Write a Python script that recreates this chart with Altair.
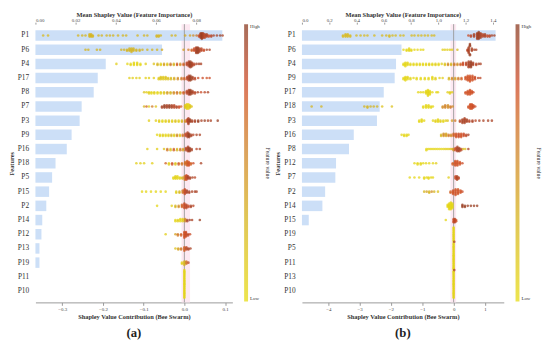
import altair as alt
import pandas as pd

SERIF = "Liberation Serif"

# ---------------- Panel (a) ----------------
features_a = ["P1", "P6", "P4", "P17", "P8", "P7", "P3", "P9", "P16", "P18",
              "P5", "P15", "P2", "P14", "P12", "P13", "P19", "P11", "P10"]
importance_a = [0.093, 0.063, 0.035, 0.031, 0.029, 0.023, 0.022, 0.018, 0.0156, 0.010,
                0.0083, 0.0068, 0.0054, 0.0034, 0.003, 0.002, 0.002, 0.0, 0.0]
top_ticks_a = [0.00, 0.02, 0.04, 0.06, 0.08]
bottom_ticks_a = [-0.3, -0.2, -0.1, 0.0, 0.1]
zero_band_a = [-0.007, 0.014]

# (shap value, feature value 0..1, count)
swarm_a = {
    "P1": [(-0.347, .25, 1), (-0.335, .25, 1), (-0.261, .3, 1), (-0.251, .3, 1), (-0.243, .3, 1),
           (-0.233, .3, 3), (-0.229, .3, 3), (-0.225, .3, 2), (-0.211, .3, 1), (-0.203, .3, 1),
           (-0.191, .3, 1), (-0.183, .3, 1), (-0.175, .3, 1), (-0.163, .3, 1), (-0.151, .3, 1),
           (-0.143, .3, 1), (-0.115, .3, 1), (-0.099, .3, 1), (-0.091, .3, 1), (-0.068, .3, 2),
           (-0.063, .3, 2), (-0.058, .3, 1), (-0.031, .3, 1), (-0.022, .3, 1), (0.002, .35, 1),
           (0.014, .4, 1), (0.022, .5, 1), (0.030, .6, 1), (0.036, .8, 2), (0.040, .9, 5),
           (0.043, .95, 6), (0.046, .9, 5), (0.050, .85, 4), (0.055, .9, 3), (0.060, .8, 2),
           (0.066, .85, 2), (0.072, .9, 1), (0.080, .9, 1), (0.088, .95, 1), (0.094, .9, 1)],
    "P6": [(-0.243, .3, 1), (-0.236, .3, 1), (-0.215, .3, 1), (-0.207, .3, 1), (-0.155, .3, 1),
           (-0.148, .3, 1), (-0.141, .3, 2), (-0.135, .3, 3), (-0.130, .3, 4), (-0.125, .3, 3),
           (-0.118, .3, 2), (-0.110, .3, 2), (-0.103, .3, 1), (-0.091, .3, 1), (-0.079, .3, 1),
           (-0.067, .3, 1), (-0.055, .35, 1), (-0.002, .4, 1), (0.010, .55, 1), (0.018, .7, 2),
           (0.024, .8, 3), (0.029, .9, 6), (0.033, .95, 6), (0.037, .9, 4), (0.042, .85, 3),
           (0.048, .8, 2), (0.055, .9, 1), (0.062, .9, 1)],
    "P4": [(-0.167, .1, 1), (-0.140, .05, 1), (-0.132, .05, 2), (-0.124, .05, 3), (-0.116, .05, 3),
           (-0.108, .05, 2), (-0.095, .1, 1), (-0.075, .2, 1), (-0.066, .3, 2), (-0.058, .1, 2),
           (-0.050, .4, 2), (-0.042, .2, 2), (-0.034, .6, 2), (-0.026, .3, 2), (-0.018, .7, 2),
           (-0.010, .5, 2), (-0.002, .7, 2), (0.006, .85, 3), (0.011, .9, 5), (0.015, .95, 6),
           (0.019, .9, 4), (0.024, .85, 2), (0.030, .9, 1), (0.036, .9, 1), (0.041, .9, 1)],
    "P17": [(-0.135, .1, 1), (-0.127, .1, 1), (-0.118, .1, 1), (-0.110, .1, 1), (-0.095, .1, 1),
            (-0.087, .1, 1), (-0.075, .1, 1), (-0.063, .15, 2), (-0.058, .2, 3), (-0.052, .15, 3),
            (-0.046, .2, 3), (-0.040, .2, 2), (-0.033, .25, 2), (-0.025, .35, 2), (-0.016, .5, 2),
            (-0.007, .6, 2), (0.000, .7, 2), (0.007, .85, 3), (0.011, .9, 5), (0.015, .95, 5),
            (0.020, .9, 3), (0.026, .85, 2), (0.034, .8, 1), (0.045, .8, 1), (0.055, .75, 1),
            (0.062, .8, 1)],
    "P8": [(-0.099, .2, 1), (-0.093, .1, 1), (-0.087, .1, 2), (-0.081, .05, 2), (-0.074, .1, 2),
           (-0.066, .05, 2), (-0.058, .1, 2), (-0.050, .2, 2), (-0.042, .4, 2), (-0.034, .3, 2),
           (-0.026, .5, 2), (-0.018, .6, 2), (-0.010, .4, 2), (-0.002, .7, 2), (0.006, .85, 3),
           (0.011, .9, 5), (0.015, .95, 5), (0.020, .9, 3), (0.026, .85, 2), (0.033, .9, 1),
           (0.041, .8, 1), (0.050, .85, 1), (0.058, .9, 1)],
    "P7": [(-0.099, .3, 1), (-0.093, .7, 1), (-0.087, .1, 1), (-0.079, .6, 1), (-0.070, .2, 1),
           (-0.055, .9, 2), (-0.049, .95, 3), (-0.043, .9, 3), (-0.037, .95, 3), (-0.031, .9, 3),
           (-0.025, .85, 3), (-0.019, .9, 2), (-0.013, .8, 2), (-0.008, .7, 1), (0.002, .2, 3),
           (0.006, .1, 5), (0.010, .05, 5), (0.014, .15, 3), (0.018, .2, 1)],
    "P3": [(-0.087, .1, 1), (-0.070, .1, 1), (-0.062, .1, 2), (-0.054, .05, 2), (-0.046, .1, 2),
           (-0.038, .15, 2), (-0.030, .1, 2), (-0.022, .2, 2), (-0.014, .1, 2), (-0.006, .3, 2),
           (0.002, .5, 2), (0.007, .8, 3), (0.010, .9, 6), (0.014, .95, 3), (0.019, .9, 2),
           (0.026, .9, 2), (0.034, .95, 2), (0.042, .9, 1), (0.050, .95, 1), (0.058, .9, 1),
           (0.065, .9, 1), (0.082, .95, 1)],
    "P9": [(-0.067, .05, 1), (-0.060, .05, 2), (-0.053, .1, 2), (-0.046, .05, 2), (-0.039, .1, 2),
           (-0.032, .3, 2), (-0.025, .1, 2), (-0.018, .5, 2), (-0.011, .2, 2), (-0.004, .6, 2),
           (0.003, .8, 3), (0.008, .9, 5), (0.012, .95, 4), (0.017, .9, 2), (0.022, .85, 1),
           (0.030, .9, 1), (0.038, .9, 1)],
    "P16": [(-0.091, .1, 1), (-0.067, .1, 1), (-0.050, .2, 1), (-0.042, .6, 2), (-0.034, .2, 2),
            (-0.026, .7, 2), (-0.018, .3, 2), (-0.010, .6, 2), (-0.003, .4, 2), (0.004, .85, 3),
            (0.009, .9, 5), (0.013, .95, 4), (0.018, .9, 2), (0.030, .85, 1), (0.038, .9, 1)],
    "P18": [(-0.118, .1, 1), (-0.108, .1, 1), (-0.099, .1, 1), (-0.079, .1, 1), (-0.046, .7, 1),
            (-0.038, .1, 2), (-0.030, .75, 2), (-0.022, .2, 2), (-0.014, .7, 2), (-0.006, .6, 2),
            (0.002, .65, 3), (0.007, .7, 5), (0.011, .75, 4), (0.016, .7, 2), (0.022, .8, 1),
            (0.041, .9, 1)],
    "P5": [(-0.027, .05, 2), (-0.022, .1, 3), (-0.017, .05, 3), (-0.011, .1, 2), (-0.005, .3, 2),
           (0.001, .6, 4), (0.005, .8, 5), (0.009, .9, 3), (0.014, .9, 2), (0.020, .9, 1),
           (0.026, .85, 1)],
    "P15": [(-0.104, .05, 1), (-0.094, .05, 1), (-0.082, .05, 1), (-0.070, .05, 1), (-0.058, .05, 1),
            (-0.046, .05, 1), (-0.020, .1, 2), (-0.012, .3, 2), (-0.004, .6, 3), (0.001, .8, 5),
            (0.006, .9, 3), (0.012, .9, 2), (0.019, .9, 1), (0.026, .9, 1), (0.030, .9, 1)],
    "P2": [(-0.067, .05, 1), (-0.031, .1, 1), (-0.022, .3, 2), (-0.014, .5, 2), (-0.006, .7, 3),
           (0.000, .8, 5), (0.005, .85, 4), (0.010, .8, 2), (0.016, .9, 2), (0.022, .85, 1)],
    "P14": [(-0.022, .05, 2), (-0.016, .1, 2), (-0.010, .05, 3), (-0.004, .1, 3), (0.002, .5, 3),
            (0.007, .9, 2), (0.013, .95, 1), (0.019, .9, 1), (0.038, .95, 1)],
    "P12": [(-0.046, .1, 1), (-0.022, .4, 1), (-0.016, .6, 2), (-0.008, .7, 2), (0.000, .75, 6),
            (0.004, .8, 5), (0.009, .85, 2), (0.014, .8, 1)],
    "P13": [(-0.022, .2, 1), (-0.015, .4, 2), (-0.008, .6, 2), (0.000, .7, 4), (0.005, .85, 3),
            (0.010, .9, 2), (0.015, .9, 1)],
    "P19": [(-0.006, .1, 2), (0.000, .3, 4), (0.005, .6, 3), (0.010, .85, 1)],
    "P11": [(0.000, .05, 13)],
    "P10": [(0.000, .05, 13)],
}

# ---------------- Panel (b) ----------------
features_b = ["P1", "P6", "P4", "P9", "P17", "P18", "P3", "P16", "P8", "P12",
              "P7", "P2", "P14", "P15", "P19", "P5", "P11", "P13", "P10"]
importance_b = [1.42, 0.73, 0.69, 0.68, 0.60, 0.57, 0.55, 0.38, 0.345, 0.25,
                0.245, 0.17, 0.15, 0.05, 0.0, 0.0, 0.0, 0.0, 0.0]
top_ticks_b = [0.0, 0.2, 0.4, 0.6, 0.8, 1.0, 1.2, 1.4]
bottom_ticks_b = [-4, -3, -2, -1, 0, 1]
zero_band_b = [-0.1, 0.08]

swarm_b = {
    "P1": [(-3.53, .25, 2), (-3.45, .25, 3), (-3.38, .25, 3), (-3.30, .25, 2), (-3.10, .25, 1),
           (-2.97, .25, 1), (-2.85, .25, 1), (-2.75, .25, 1), (-2.53, .25, 1), (-2.28, .25, 1),
           (-2.15, .25, 1), (-2.05, .25, 2), (-1.95, .25, 1), (-1.85, .25, 1), (-1.70, .25, 1),
           (-1.60, .25, 1), (-1.34, .25, 1), (-1.25, .25, 1), (-1.13, .25, 1), (-1.03, .25, 1),
           (-0.92, .25, 1), (-0.82, .25, 1), (-0.70, .25, 1), (-0.62, .25, 1), (0.47, .8, 1),
           (0.55, .85, 2), (0.65, .9, 3), (0.75, .9, 6), (0.80, .95, 7), (0.86, .9, 5),
           (0.93, .85, 3), (1.00, .9, 3), (1.08, .8, 2), (1.15, .85, 2), (1.22, .9, 1), (1.30, .9, 1)],
    "P6": [(-1.60, .05, 1), (-1.50, .05, 2), (-1.42, .05, 3), (-1.35, .05, 2), (-1.25, .05, 1),
           (-1.15, .05, 1), (-1.05, .05, 1), (-0.97, .05, 1), (-0.35, .1, 1), (-0.28, .1, 1),
           (-0.20, .1, 1), (-0.12, .1, 1), (-0.05, .1, 1), (0.12, .3, 1), (0.44, .85, 2),
           (0.48, .9, 6), (0.52, .95, 5), (0.58, .9, 3), (0.66, .9, 1), (0.72, .9, 1)],
    "P4": [(-1.60, .05, 2), (-1.54, .05, 4), (-1.47, .05, 3), (-1.38, .05, 2), (-1.28, .05, 2),
           (-1.18, .05, 2), (-1.08, .05, 2), (-0.98, .05, 2), (-0.88, .05, 2), (-0.78, .1, 2),
           (-0.68, .05, 2), (-0.58, .1, 2), (-0.48, .05, 2), (-0.38, .1, 1), (-0.28, .2, 2),
           (-0.18, .5, 2), (-0.08, .3, 2), (0.02, .6, 2), (0.12, .5, 2), (0.22, .7, 2),
           (0.30, .8, 3), (0.40, .85, 3), (0.48, .9, 6), (0.55, .95, 6), (0.62, .9, 3),
           (0.72, .85, 2), (0.80, .9, 1), (0.86, .9, 1)],
    "P9": [(-1.60, .05, 2), (-1.54, .05, 4), (-1.47, .05, 3), (-1.38, .05, 2), (-1.28, .05, 1),
           (-1.18, .05, 2), (-1.05, .05, 2), (-0.92, .05, 2), (-0.80, .05, 2), (-0.68, .05, 3),
           (-0.58, .1, 2), (-0.45, .1, 1), (-0.35, .1, 1), (-0.15, .3, 2), (-0.05, .5, 2),
           (0.05, .4, 2), (0.15, .6, 2), (0.25, .7, 2), (0.38, .75, 3), (0.45, .75, 5),
           (0.52, .75, 6), (0.60, .75, 5), (0.68, .8, 3), (0.78, .85, 1), (0.85, .85, 1)],
    "P17": [(-1.13, .05, 1), (-1.05, .05, 1), (-0.97, .05, 1), (-0.88, .05, 3), (-0.82, .05, 6),
            (-0.76, .05, 4), (-0.68, .05, 1), (-0.55, .05, 1), (-0.50, .05, 1), (-0.19, .1, 1),
            (-0.12, .1, 2), (-0.05, .1, 1), (0.38, .75, 2), (0.45, .75, 4), (0.52, .75, 5),
            (0.58, .75, 3), (0.63, .8, 1)],
    "P18": [(-4.53, .3, 1), (-4.22, .3, 1), (-2.85, .3, 1), (-2.75, .3, 2), (-2.65, .3, 1),
            (-2.55, .3, 1), (-2.44, .3, 1), (-2.28, .2, 1), (-1.97, .2, 1), (-0.97, .05, 2),
            (-0.88, .05, 3), (-0.80, .05, 3), (-0.72, .05, 2), (-0.66, .05, 1), (-0.35, .5, 2),
            (-0.27, .55, 3), (-0.18, .5, 3), (-0.10, .6, 2), (-0.03, .5, 1), (0.47, .75, 2),
            (0.53, .75, 5), (0.58, .75, 5), (0.63, .8, 3), (0.69, .8, 1)],
    "P3": [(-1.10, .05, 2), (-1.02, .05, 3), (-0.94, .05, 1), (-0.66, .05, 1), (-0.58, .1, 2),
           (-0.50, .05, 3), (-0.42, .1, 2), (-0.33, .05, 2), (-0.25, .1, 1), (-0.19, .2, 1),
           (-0.05, .4, 1), (0.05, .6, 1), (0.20, .85, 2), (0.28, .9, 4), (0.35, .9, 5),
           (0.42, .9, 3), (0.50, .85, 2), (0.60, .9, 2), (0.70, .85, 1), (0.82, .9, 1),
           (0.95, .9, 1), (1.10, .9, 1), (1.22, .9, 1)],
    "P16": [(-1.66, .05, 1), (-1.58, .05, 2), (-1.50, .05, 2), (-1.44, .05, 1), (-0.40, .3, 2),
            (-0.32, .5, 3), (-0.24, .4, 3), (-0.16, .6, 2), (-0.08, .5, 2), (0.00, .7, 3),
            (0.08, .75, 4), (0.16, .8, 4), (0.24, .75, 4), (0.32, .8, 3), (0.40, .85, 2),
            (0.47, .9, 1)],
    "P8": [(-0.87, .05, 2), (-0.81, .05, 1), (-0.75, .05, 1), (-0.69, .05, 1), (-0.63, .05, 1),
           (-0.57, .05, 1), (-0.51, .05, 1), (-0.45, .05, 1), (-0.39, .05, 1), (-0.33, .05, 1),
           (-0.27, .1, 1), (-0.21, .1, 1), (-0.15, .1, 1), (-0.09, .2, 1), (-0.03, .3, 1),
           (0.00, .5, 2), (0.06, .8, 3), (0.12, .9, 5), (0.18, .9, 4), (0.24, .85, 2),
           (0.30, .3, 1), (0.37, .2, 1), (0.47, .9, 1)],
    "P12": [(-1.25, .05, 1), (-1.15, .05, 2), (-1.05, .05, 2), (-0.97, .05, 1), (-0.88, .05, 1),
            (-0.78, .05, 1), (-0.66, .05, 1), (-0.56, .1, 1), (-0.03, .7, 2), (0.05, .75, 5),
            (0.12, .75, 5), (0.20, .75, 3), (0.28, .8, 1)],
    "P7": [(-1.40, .05, 1), (-1.25, .05, 1), (-1.10, .05, 1), (-0.94, .05, 2), (-0.86, .05, 1),
           (-0.80, .05, 2), (-0.72, .05, 1), (-0.66, .05, 1), (-0.16, .1, 1), (0.06, .8, 3),
           (0.11, .9, 4), (0.16, .85, 2)],
    "P2": [(-0.94, .3, 1), (-0.86, .4, 1), (-0.78, .3, 2), (-0.70, .5, 1), (-0.62, .3, 1),
           (-0.50, .2, 1), (-0.10, .7, 2), (-0.02, .75, 4), (0.06, .75, 6), (0.14, .75, 5),
           (0.22, .75, 3), (0.28, .8, 1)],
    "P14": [(-0.19, .05, 3), (-0.14, .05, 6), (-0.09, .05, 7), (-0.04, .05, 5), (0.28, .95, 3),
            (0.36, .95, 2), (0.45, .95, 1), (0.55, .95, 1), (0.65, .95, 1), (0.75, .95, 1)],
    "P15": [(-0.25, .05, 1), (0.00, .8, 4), (0.04, .85, 4), (0.08, .8, 2)],
    "P19": [(0.0, .05, 13)],
    "P5": [(0.0, .05, 12), (0.02, .9, 1)],
    "P11": [(0.0, .05, 13)],
    "P13": [(0.0, .05, 12), (0.02, .9, 1)],
    "P10": [(0.0, .05, 13)],
}

COLOR_DOMAIN = [0, 0.3, 0.55, 0.78, 1]
COLOR_RANGE = ["#e6dc14", "#d6b41e", "#cf8228", "#d04a26", "#8a3b22"]

PAD_OUTER = 0.3


def swarm_table(features, swarm, px_per_unit):
    """Beeswarm layout: stack points that share a ~1.6 px x-bin vertically."""
    rows = []
    for feat in features:
        pts = []
        for s, f, n in swarm.get(feat, []):
            pts += [(s, f)] * n
        pts.sort(key=lambda p: p[0])
        used = {}
        for s, f in pts:
            b = round(s * px_per_unit / 1.6)
            k = used.get(b, 0)
            used[b] = k + 1
            lvl = ((k + 1) // 2) % 7
            off = lvl * 1.15 * (1 if k % 2 else -1)
            rows.append({"feature": feat, "shap": s, "fval": f, "off": off})
    return pd.DataFrame(rows)


def panel(features, importance, swarm, bottom_dom, bottom_ticks, bottom_fmt,
          top_dom, top_ticks, top_fmt, zero_band, caption, width, height):
    px = width / (bottom_dom[1] - bottom_dom[0])
    pts = swarm_table(features, swarm, px)
    bars_df = pd.DataFrame({"feature": features, "imp": importance})
    step = height / (len(features) + 2 * PAD_OUTER)
    half = step / 2

    yscale = alt.Scale(paddingInner=0, paddingOuter=PAD_OUTER)
    yenc = alt.Y("feature:N", sort=features, scale=yscale,
                 axis=alt.Axis(title="Features", titleFont=SERIF, titleFontSize=6.5,
                               titleFontWeight="bold", titleColor="#333", titlePadding=3,
                               labelFont=SERIF, labelFontSize=7.5, labelColor="#333",
                               ticks=False, domain=False, labelPadding=7, grid=False))
    bscale = alt.Scale(domain=bottom_dom, nice=False, zero=False)

    band = alt.Chart(pd.DataFrame({"x0": [zero_band[0]], "x1": [zero_band[1]]})).mark_rect(
        color="#fde3ef", opacity=0.8).encode(
        x=alt.X("x0:Q", scale=bscale, axis=None), x2="x1:Q")

    bars = alt.Chart(bars_df).mark_bar(color="#c6dbf6", opacity=0.9,
                                       height=step * 0.74).encode(
        x=alt.X("imp:Q", scale=alt.Scale(domain=top_dom, nice=False, zero=False),
                axis=alt.Axis(orient="top", values=top_ticks, format=top_fmt,
                              title="Mean Shapley Value (Feature Importance)",
                              titleFont=SERIF, titleFontSize=6.5, titleFontWeight="bold",
                              titleColor="#333", titlePadding=0,
                              labelFont=SERIF, labelFontSize=5, labelColor="#444",
                              labelPadding=0, tickSize=2, tickColor="#999",
                              domain=False, grid=False)),
        y=yenc)

    rule = alt.Chart(pd.DataFrame({"z": [0.0]})).mark_rule(color="#999999", strokeWidth=0.9).encode(
        x=alt.X("z:Q", scale=bscale, axis=None))

    dots = alt.Chart(pts).mark_circle(size=7, opacity=0.75).encode(
        x=alt.X("shap:Q", scale=bscale,
                axis=alt.Axis(orient="bottom", values=bottom_ticks, format=bottom_fmt,
                              title="Shapley Value Contribution (Bee Swarm)",
                              titleFont=SERIF, titleFontSize=6.5, titleFontWeight="bold",
                              titleColor="#333", titlePadding=2,
                              labelFont=SERIF, labelFontSize=5, labelColor="#444",
                              labelPadding=1, tickSize=3, tickColor="#999",
                              domainColor="#999", grid=False)),
        y=alt.Y("feature:N", sort=features, scale=yscale),
        yOffset=alt.YOffset("off:Q", scale=alt.Scale(domain=[-10, 10],
                                                     range=[-10 + half, 10 + half])),
        color=alt.Color("fval:Q",
                        scale=alt.Scale(domain=COLOR_DOMAIN, range=COLOR_RANGE),
                        legend=alt.Legend(title="Feature value", titleOrient="right",
                                          titleFont=SERIF, titleFontSize=6, titleFontWeight="normal",
                                          titleColor="#333",
                                          gradientLength=283, gradientThickness=4,
                                          values=[0, 1],
                                          labelExpr="datum.value >= 1 ? 'High' : 'Low'",
                                          labelFont=SERIF, labelFontSize=5, labelColor="#333",
                                          offset=12, padding=0, direction="vertical",
                                          gradientStrokeWidth=0)),
    )

    return alt.layer(band, bars, rule, dots).resolve_scale(x="independent").properties(
        width=width, height=height,
        title=alt.TitleParams(caption, orient="bottom", font=SERIF, fontSize=13,
                              fontWeight="bold", color="#222", offset=8))


pa = panel(features_a, importance_a, swarm_a, [-0.366, 0.118], bottom_ticks_a, ".1f",
           [0, 0.098], top_ticks_a, ".2f", zero_band_a, "(a)", 201, 284)
pb = panel(features_b, importance_b, swarm_b, [-4.84, 1.6], bottom_ticks_b, "d",
           [0, 1.48], top_ticks_b, ".1f", zero_band_b, "(b)", 206, 284)

chart = alt.hconcat(pa, pb, spacing=4).resolve_scale(color="independent").resolve_legend(
    color="independent").properties(padding=0).configure_view(stroke=None)

chart.save("out.html", embed_options={"renderer": "svg", "actions": False})
